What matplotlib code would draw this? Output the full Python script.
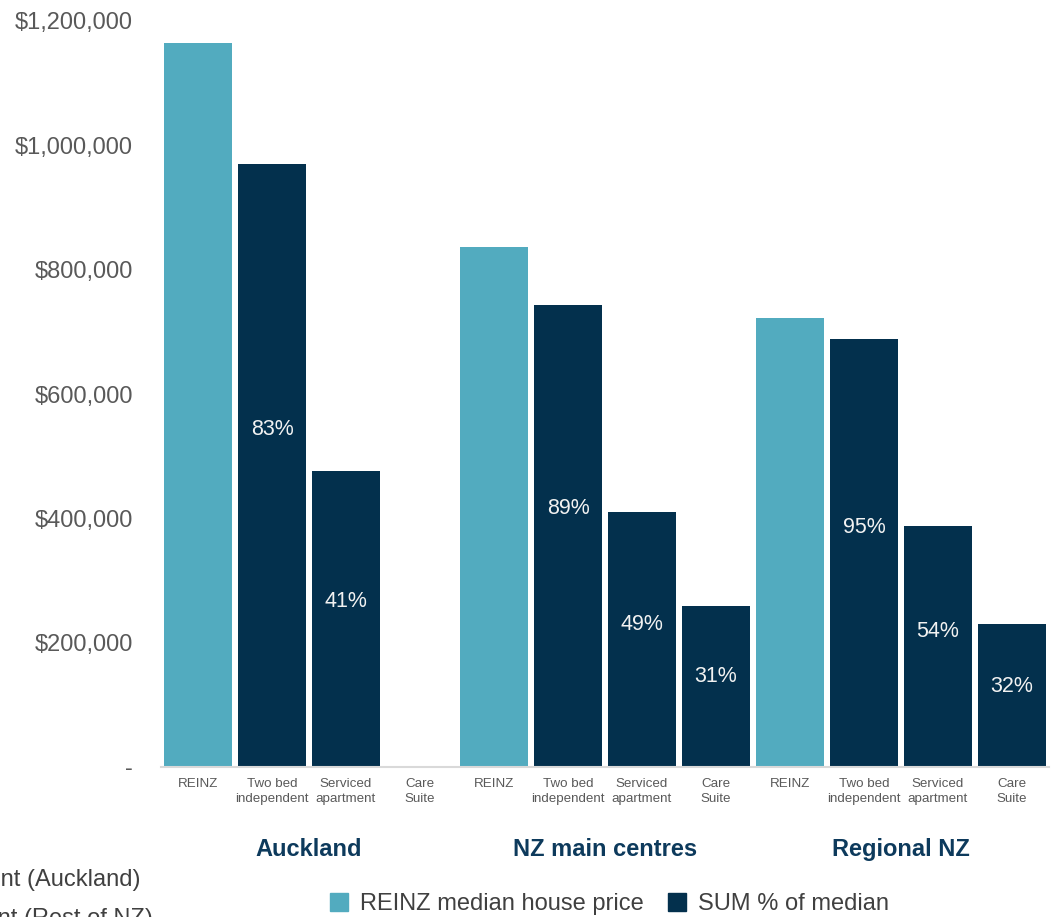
import numpy as np
import matplotlib
matplotlib.use("Agg")
import matplotlib.pyplot as plt
from matplotlib.ticker import FuncFormatter
from matplotlib.lines import Line2D

plt.rcParams["font.family"] = ["Liberation Sans", "DejaVu Sans"]

# regions and the four price columns in each
regions = ["Auckland", "NZ main centres", "Regional NZ"]
columns = ["REINZ", "Two bed\nindependent", "Serviced\napartment", "Care\nSuite"]

# REINZ median house price per region
reinz_median = [1165000, 837000, 722000]
# SUM unit prices per region (no care suite figure for Auckland)
two_bed = [970000, 743000, 688000]
serviced = [476000, 410000, 388000]
care_suite = [np.nan, 259000, 230000]

teal = "#52ABBF"
navy = "#03304D"
grey = "#595959"

fig = plt.figure(figsize=(10.52, 9.17), dpi=100)
W, H = 1052, 917
ax = fig.add_axes([161 / W, 150 / H, 888 / W, 746 / H])

n_cols = len(columns)
width = 68 / 74

reinz_x, reinz_h = [], []
sum_x, sum_h, sum_pct = [], [], []
for g in range(len(regions)):
    base = g * n_cols
    reinz_x.append(base)
    reinz_h.append(reinz_median[g])
    for j, series in enumerate([two_bed, serviced, care_suite], start=1):
        sum_x.append(base + j)
        sum_h.append(series[g])
        sum_pct.append(series[g] / reinz_median[g] * 100)

ax.bar(reinz_x, reinz_h, width=width, color=teal, zorder=2)
ax.bar(sum_x, np.nan_to_num(sum_h), width=width, color=navy, zorder=2)

# percentage of median inside the SUM bars
for x, h, p in zip(sum_x, sum_h, sum_pct):
    if np.isnan(h):
        continue
    ax.text(x, h * 0.56, f"{p:.0f}%", ha="center", va="center",
            color="#F2F2F2", fontsize=15.5, zorder=3)

ax.set_xlim(-0.5, len(regions) * n_cols - 0.5)
ax.set_ylim(0, 1200000)
ax.set_yticks(np.arange(0, 1200001, 200000))
ax.yaxis.set_major_formatter(FuncFormatter(
    lambda v, pos: "-" if v == 0 else f"${v:,.0f}"))
ax.tick_params(axis="y", length=0, pad=20, labelsize=17, labelcolor=grey)

ax.set_xticks(np.arange(len(regions) * n_cols))
ax.set_xticklabels(columns * len(regions), fontsize=9.6, color=grey,
                   linespacing=1.3)
ax.tick_params(axis="x", length=0, pad=8)

for side in ["top", "right", "left"]:
    ax.spines[side].set_visible(False)
ax.spines["bottom"].set_color("#D9D9D9")
ax.spines["bottom"].set_linewidth(1.5)

# region names under each group of columns
for g, name in enumerate(regions):
    xc = g * n_cols + (n_cols - 1) / 2
    ax.text(xc, -0.119, name, transform=ax.get_xaxis_transform(),
            ha="center", va="baseline", fontsize=17, fontweight="bold",
            color="#0D3A5C")

handles = [
    Line2D([], [], marker="s", linestyle="none", markersize=13,
           markerfacecolor=teal, markeredgecolor=teal),
    Line2D([], [], marker="s", linestyle="none", markersize=13,
           markerfacecolor=navy, markeredgecolor=navy),
]
fig.legend(handles, ["REINZ median house price", "SUM % of median"],
           loc="center", bbox_to_anchor=(609 / W, 1 - 904 / H), ncol=2,
           frameon=False, fontsize=17, handlelength=0.8, handletextpad=0.5,
           columnspacing=1.0, labelcolor="#404040")

# key text running off the left edge
fig.text(140 / W, 1 - 880 / H, "Two bed independent (Auckland)",
         ha="right", va="center", fontsize=17, color="#404040")
fig.text(153 / W, 1 - 919 / H, "Two bed independent (Rest of NZ)",
         ha="right", va="center", fontsize=17, color="#404040")

fig.savefig("out.png", dpi=100)
